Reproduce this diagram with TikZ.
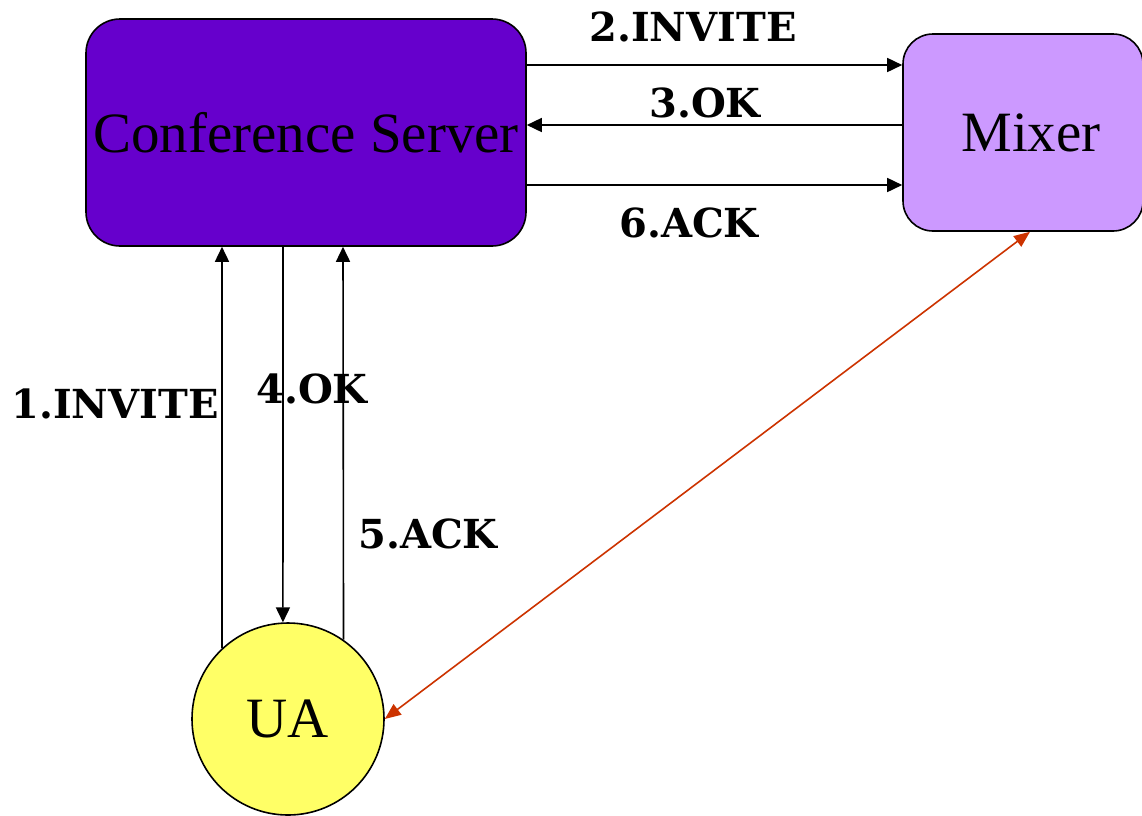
\documentclass[tikz,border=0pt]{standalone}
\usepackage{fontspec}
\setmainfont{Liberation Serif}
\newfontfamily\lblfont{DejaVu Serif}
\usetikzlibrary{arrows.meta}
\definecolor{serverfill}{HTML}{6600CC}
\definecolor{mixerfill}{HTML}{CC99FF}
\definecolor{uafill}{HTML}{FFFF66}
\definecolor{medialine}{HTML}{CC3300}
\begin{document}
\begin{tikzpicture}[x=1pt,y=-1pt,
  entity/.style={draw=black,line width=1.6pt,inner sep=0pt,font=\fontsize{57}{60}\selectfont},
  entitytext/.style={inner sep=0pt,font=\fontsize{57}{60}\selectfont},
  msg/.style={line width=1.6pt,-{Triangle[length=15pt,width=14pt]}},
  media/.style={draw=medialine,line width=1.6pt,{Triangle[length=16pt,width=13pt]}-{Triangle[length=16pt,width=13pt]}},
  lbl/.style={anchor=base,inner sep=0pt,font=\lblfont\bfseries\fontsize{40}{43}\selectfont}]
\useasboundingbox (0,0) rectangle (1142,815);
\clip (0,0) rectangle (1142,815);

% entities
\node[entity,rectangle,rounded corners=34pt,fill=serverfill,
      minimum width=440pt,minimum height=227pt] (cs) at (306,132.5) {Conference Server};
\node[entity,rectangle,rounded corners=30pt,fill=mixerfill,
      minimum width=240pt,minimum height=197pt] (mix) at (1023,132.5) {};
\node[entitytext] (mixtext) at (1031,133) {Mixer};
\node[entity,circle,fill=uafill,minimum size=192pt] (ua) at (288,719) {UA};

% reference rows and columns for the signalling lines
\coordinate (r2) at (0,65);
\coordinate (r3) at (0,125);
\coordinate (r6) at (0,185);
\coordinate (c1) at (222,0);
\coordinate (c4) at (283,0);
\coordinate (c5) at (343,0);
\coordinate (mx) at (1030,0);

% server <-> mixer
\draw[msg] (cs.east |- r2) -- (mix.west |- r2);
\draw[msg] (mix.west |- r3) -- (cs.east |- r3);
\draw[msg] (cs.east |- r6) -- (mix.west |- r6);

% UA <-> server
\draw[msg] (ua.133.4) -- (cs.south -| c1);
\draw[msg] (cs.south -| c4) -- (ua.93);
\draw[msg] (ua.55) -- (cs.south -| c5);

% media path UA <-> mixer
\draw[media] (ua.east) -- (mix.south -| mx);

% message labels
\node[lbl] (l2) at (693,41) {2.INVITE};
\node[lbl] (l3) at (705,117) {3.OK};
\node[lbl] (l6) at (689,237) {6.ACK};
\node[lbl] (l1) at (115,418) {1.INVITE};
\node[lbl] (l4) at (312,403) {4.OK};
\node[lbl] (l5) at (428,548) {5.ACK};
\end{tikzpicture}
\end{document}
